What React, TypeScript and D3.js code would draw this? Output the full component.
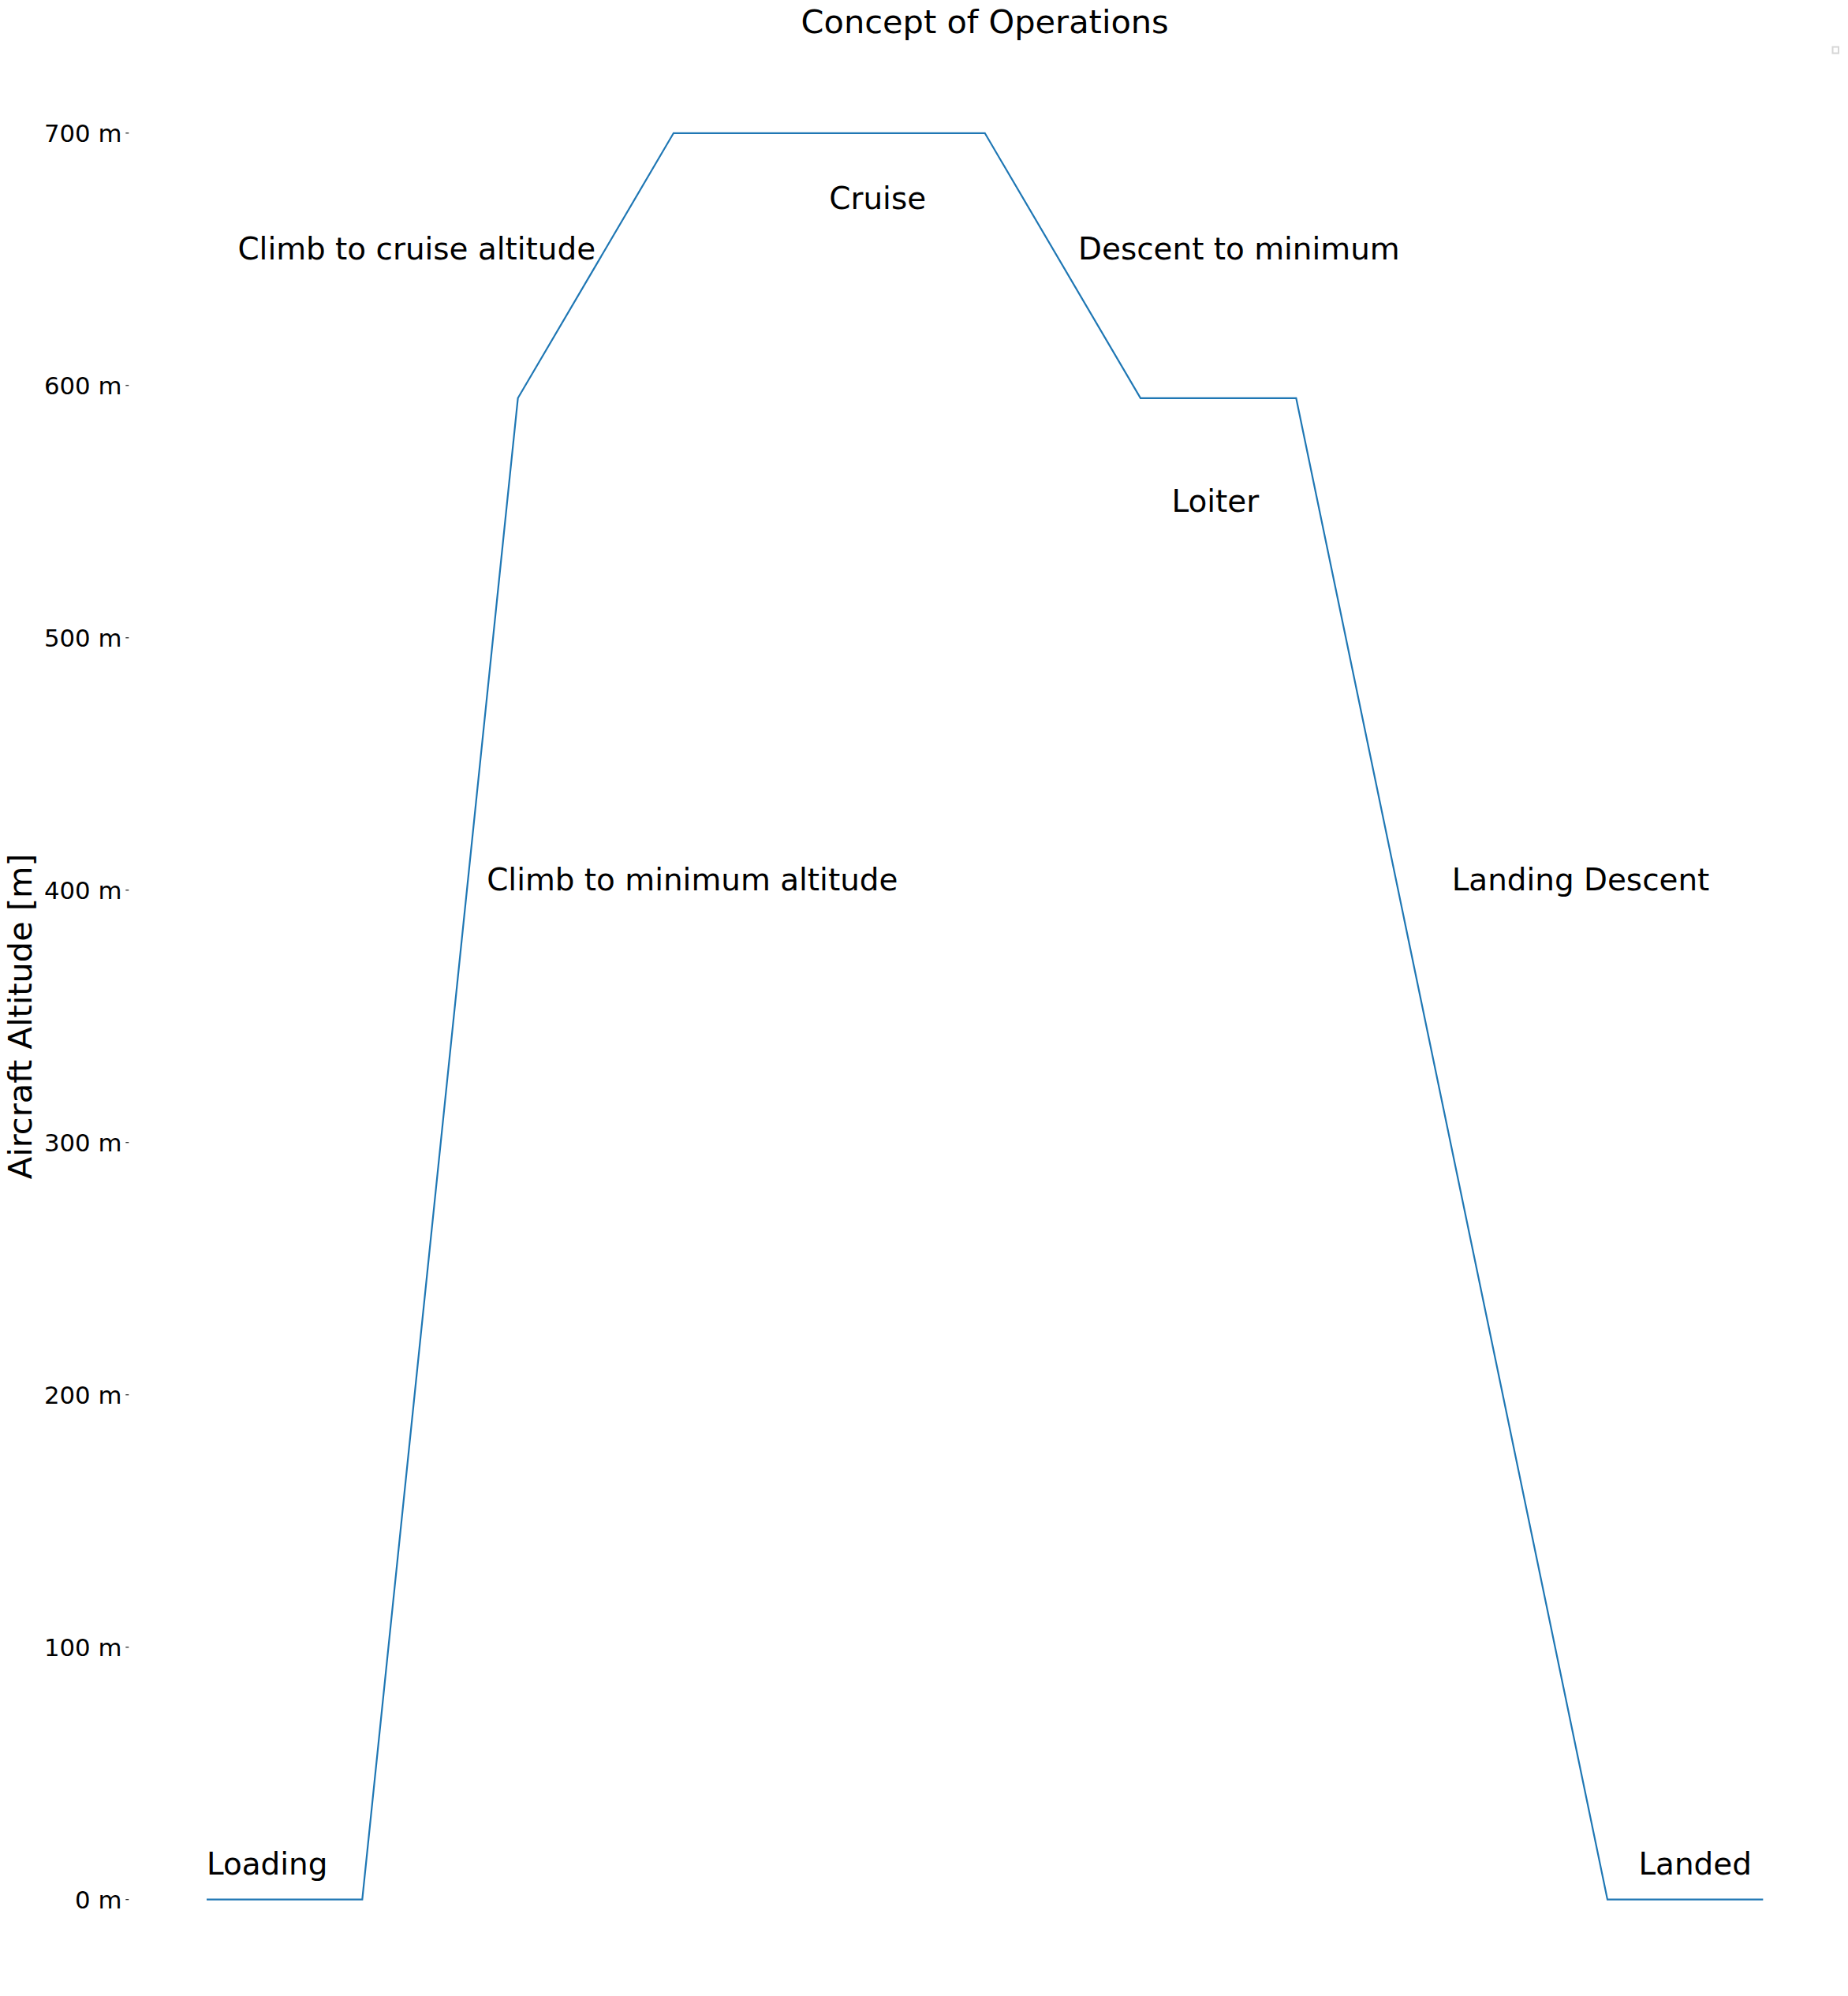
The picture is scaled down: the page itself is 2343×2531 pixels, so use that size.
import { useEffect, useRef } from 'react'
import * as d3 from 'd3'

// mission profile: step index vs altitude (m)
const STEPS = [0, 1, 2, 3, 5, 6, 7, 9, 10]
const ALTITUDE = [0, 0, 595, 700, 700, 595, 595, 0, 0]

const PHASE_LABELS = ['Loading', 'Climb to minimum altitude', 'Climb to cruise altitude', 'Cruise',
  'Descent to minimum', 'Loiter', 'Landing Descent', 'Landed']
const PHASE_X = [0, 1.8, 0.2, 4, 5.6, 6.2, 8, 9.2]
const PHASE_Y = [10, 400, 650, 670, 650, 550, 400, 10]

const Y_TICKS = [0, 100, 200, 300, 400, 500, 600, 700]

const W = 2343
const H = 2531
const FONT = '"DejaVu Sans", sans-serif'

export default function App() {
  const svgRef = useRef<SVGSVGElement>(null)

  useEffect(() => {
    const svgEl = svgRef.current
    if (!svgEl) return
    const svg = d3.select(svgEl)
    svg.selectAll('*').remove()

    const left = 163.3, right = 2334, top = 56.8, bottom = 2520.7
    const x = d3.scaleLinear().domain([-0.5, 10.5]).range([left, right])
    const y = d3.scaleLinear().domain([-35, 735]).range([bottom, top])

    svg.append('rect').attr('width', W).attr('height', H).attr('fill', '#fff')

    // y ticks (no spines)
    const yAxis = svg.append('g')
    Y_TICKS.forEach(t => {
      yAxis.append('line')
        .attr('x1', left - 4).attr('x2', left)
        .attr('y1', y(t)).attr('y2', y(t))
        .attr('stroke', '#000').attr('stroke-width', 1.1)
      yAxis.append('text')
        .attr('x', 154.5).attr('y', y(t) + 11)
        .attr('text-anchor', 'end')
        .attr('font-family', FONT).attr('font-size', 30.8).attr('fill', '#000')
        .text(`${t} m`)
    })

    svg.append('text')
      .attr('transform', `translate(39.5,${(top + bottom) / 2}) rotate(-90)`)
      .attr('text-anchor', 'middle')
      .attr('font-family', FONT).attr('font-size', 41.5).attr('fill', '#000')
      .text('Aircraft Altitude [m]')

    svg.append('text')
      .attr('x', (left + right) / 2).attr('y', 42)
      .attr('text-anchor', 'middle')
      .attr('font-family', FONT).attr('font-size', 41.5).attr('fill', '#000')
      .text('Concept of Operations')

    const line = d3.line<number>()
      .x((_, i) => x(STEPS[i]))
      .y(d => y(d))
    svg.append('path')
      .datum(ALTITUDE)
      .attr('d', line)
      .attr('fill', 'none')
      .attr('stroke', '#1f77b4')
      .attr('stroke-width', 2.2)
      .attr('stroke-linejoin', 'miter')

    PHASE_LABELS.forEach((label, i) => {
      svg.append('text')
        .attr('x', x(PHASE_X[i])).attr('y', y(PHASE_Y[i]))
        .attr('font-family', FONT).attr('font-size', 38.9).attr('fill', '#000')
        .text(label)
    })

    // empty legend box
    svg.append('rect')
      .attr('x', 2323.5).attr('y', 59.5).attr('width', 7.5).attr('height', 8)
      .attr('fill', '#fff').attr('stroke', '#d6d6d6').attr('stroke-width', 2)
  }, [])

  return (
    <svg
      ref={svgRef}
      width={W}
      height={H}
      style={{ position: 'absolute', left: 0, top: 0, display: 'block' }}
    />
  )
}
